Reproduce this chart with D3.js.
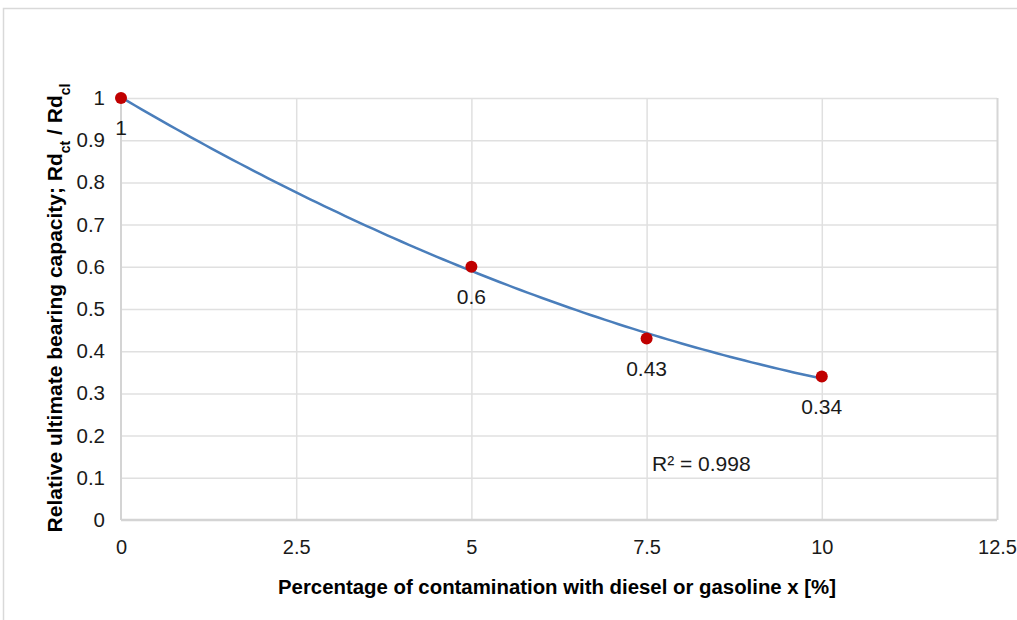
<!DOCTYPE html>
<html>
<head>
<meta charset="utf-8">
<script src="https://cdn.jsdelivr.net/npm/d3@7"></script>
<style>
  body { margin: 0; background: #fff; }
  text { font-family: Arial, "Liberation Sans", sans-serif; }
</style>
</head>
<body>
<div id="content"></div>
<script>
// measured data
var xValues = [0, 5, 7.5, 10];
var yValues = [1, 0.6, 0.43, 0.34];
var pointLabels = ["1", "0.6", "0.43", "0.34"];
var xTicks = [0, 2.5, 5, 7.5, 10, 12.5];
var yTicks = [0, 0.1, 0.2, 0.3, 0.4, 0.5, 0.6, 0.7, 0.8, 0.9, 1];
var r2Text = "R\u00b2 = 0.998";

var W = 1017, H = 620;
var svg = d3.select("#content").append("svg").attr("width", W).attr("height", H);

// outer chart border
svg.append("rect").attr("x", 3.5).attr("y", 8.5).attr("width", W + 10).attr("height", H + 10)
  .attr("fill", "none").attr("stroke", "#d9d9d9").attr("stroke-width", 1.5);

var x = d3.scaleLinear().domain([0, 12.5]).range([121, 997]);
var y = d3.scaleLinear().domain([0, 1]).range([520, 98]);

// gridlines
svg.append("g").selectAll("line").data(yTicks.slice(1)).enter().append("line")
  .attr("x1", x(0)).attr("x2", x(12.5))
  .attr("y1", function(d) { return y(d) + 0.5; }).attr("y2", function(d) { return y(d) + 0.5; })
  .attr("stroke", "#e0e0e0").attr("stroke-width", 1.5);
svg.append("g").selectAll("line").data(xTicks.slice(1)).enter().append("line")
  .attr("y1", y(0)).attr("y2", y(1))
  .attr("x1", function(d) { return x(d) + 0.5; }).attr("x2", function(d) { return x(d) + 0.5; })
  .attr("stroke", function(d) { return d === 12.5 ? "#d6d6d6" : "#e0e0e0"; })
  .attr("stroke-width", function(d) { return d === 12.5 ? 2 : 1.5; });

// axes lines
svg.append("line").attr("x1", x(0)).attr("x2", x(12.5)).attr("y1", y(0)).attr("y2", y(0))
  .attr("stroke", "#d4d4d4").attr("stroke-width", 2.5);
svg.append("line").attr("x1", x(0)).attr("x2", x(0)).attr("y1", y(0)).attr("y2", y(1))
  .attr("stroke", "#d4d4d4").attr("stroke-width", 2);

// tick labels
var xAxis = d3.axisBottom(x).tickValues(xTicks).tickSize(0).tickPadding(20)
  .tickFormat(function(d) { return String(d); });
var gx = svg.append("g").attr("transform", "translate(0," + y(0) + ")").call(xAxis);
gx.select(".domain").remove();
gx.selectAll("text").attr("font-size", 20).attr("fill", "#1a1a1a")
  .attr("font-family", "Arial, 'Liberation Sans', sans-serif");

var yAxis = d3.axisLeft(y).tickValues(yTicks).tickSize(0).tickPadding(16)
  .tickFormat(function(d) { return String(d); });
var gy = svg.append("g").attr("transform", "translate(" + x(0) + ",0)").call(yAxis);
gy.select(".domain").remove();
gy.selectAll("text").attr("font-size", 20.5).attr("fill", "#1a1a1a")
  .attr("font-family", "Arial, 'Liberation Sans', sans-serif");

// polynomial (order 2) trendline, least squares on the data
function quadFit(xs, ys) {
  var n = xs.length, s = [0, 0, 0, 0, 0], t = [0, 0, 0];
  for (var i = 0; i < n; i++) {
    for (var k = 0; k < 5; k++) s[k] += Math.pow(xs[i], k);
    for (var k2 = 0; k2 < 3; k2++) t[k2] += ys[i] * Math.pow(xs[i], k2);
  }
  var A = [[s[0], s[1], s[2], t[0]], [s[1], s[2], s[3], t[1]], [s[2], s[3], s[4], t[2]]];
  for (var c = 0; c < 3; c++) {
    for (var r = c + 1; r < 3; r++) {
      var f = A[r][c] / A[c][c];
      for (var j = c; j < 4; j++) A[r][j] -= f * A[c][j];
    }
  }
  var b = [0, 0, 0];
  for (var r2 = 2; r2 >= 0; r2--) {
    var v = A[r2][3];
    for (var j2 = r2 + 1; j2 < 3; j2++) v -= A[r2][j2] * b[j2];
    b[r2] = v / A[r2][r2];
  }
  return b;
}
var coef = quadFit(xValues, yValues);
var trendX = d3.range(0, 10.001, 0.1);
var line = d3.line()
  .x(function(d) { return x(d); })
  .y(function(d) { return y(coef[0] + coef[1] * d + coef[2] * d * d); });
svg.append("path").datum(trendX).attr("d", line)
  .attr("fill", "none").attr("stroke", "#4a7ebb").attr("stroke-width", 2.5);

// points
var pts = xValues.map(function(d, i) { return { x: d, y: yValues[i], label: pointLabels[i] }; });
svg.append("g").selectAll("circle").data(pts).enter().append("circle")
  .attr("cx", function(d) { return x(d.x); })
  .attr("cy", function(d) { return y(d.y); })
  .attr("r", 6).attr("fill", "#c00000");

svg.append("g").selectAll("text").data(pts).enter().append("text")
  .attr("x", function(d) { return x(d.x); })
  .attr("y", function(d) { return y(d.y) + 37; })
  .attr("text-anchor", "middle").attr("font-size", 21).attr("fill", "#1a1a1a")
  .text(function(d) { return d.label; });

// R squared
svg.append("text").attr("x", 652).attr("y", 471).attr("font-size", 21).attr("fill", "#1a1a1a")
  .text(r2Text);

// axis titles
svg.append("text").attr("x", 557).attr("y", 594).attr("text-anchor", "middle")
  .attr("font-size", 20).attr("font-weight", "bold").attr("fill", "#000")
  .attr("textLength", 558).attr("lengthAdjust", "spacingAndGlyphs")
  .text("Percentage of contamination with diesel or gasoline x [%]");

var yt = svg.append("text").attr("transform", "translate(62,308) rotate(-90)")
  .attr("text-anchor", "middle").attr("font-size", 21).attr("font-weight", "bold").attr("fill", "#000");
yt.append("tspan").text("Relative ultimate bearing capacity; Rd");
yt.append("tspan").attr("baseline-shift", "sub").attr("font-size", 14).text("ct");
yt.append("tspan").text(" / Rd");
yt.append("tspan").attr("baseline-shift", "sub").attr("font-size", 14).text("cl");
</script>
</body>
</html>
